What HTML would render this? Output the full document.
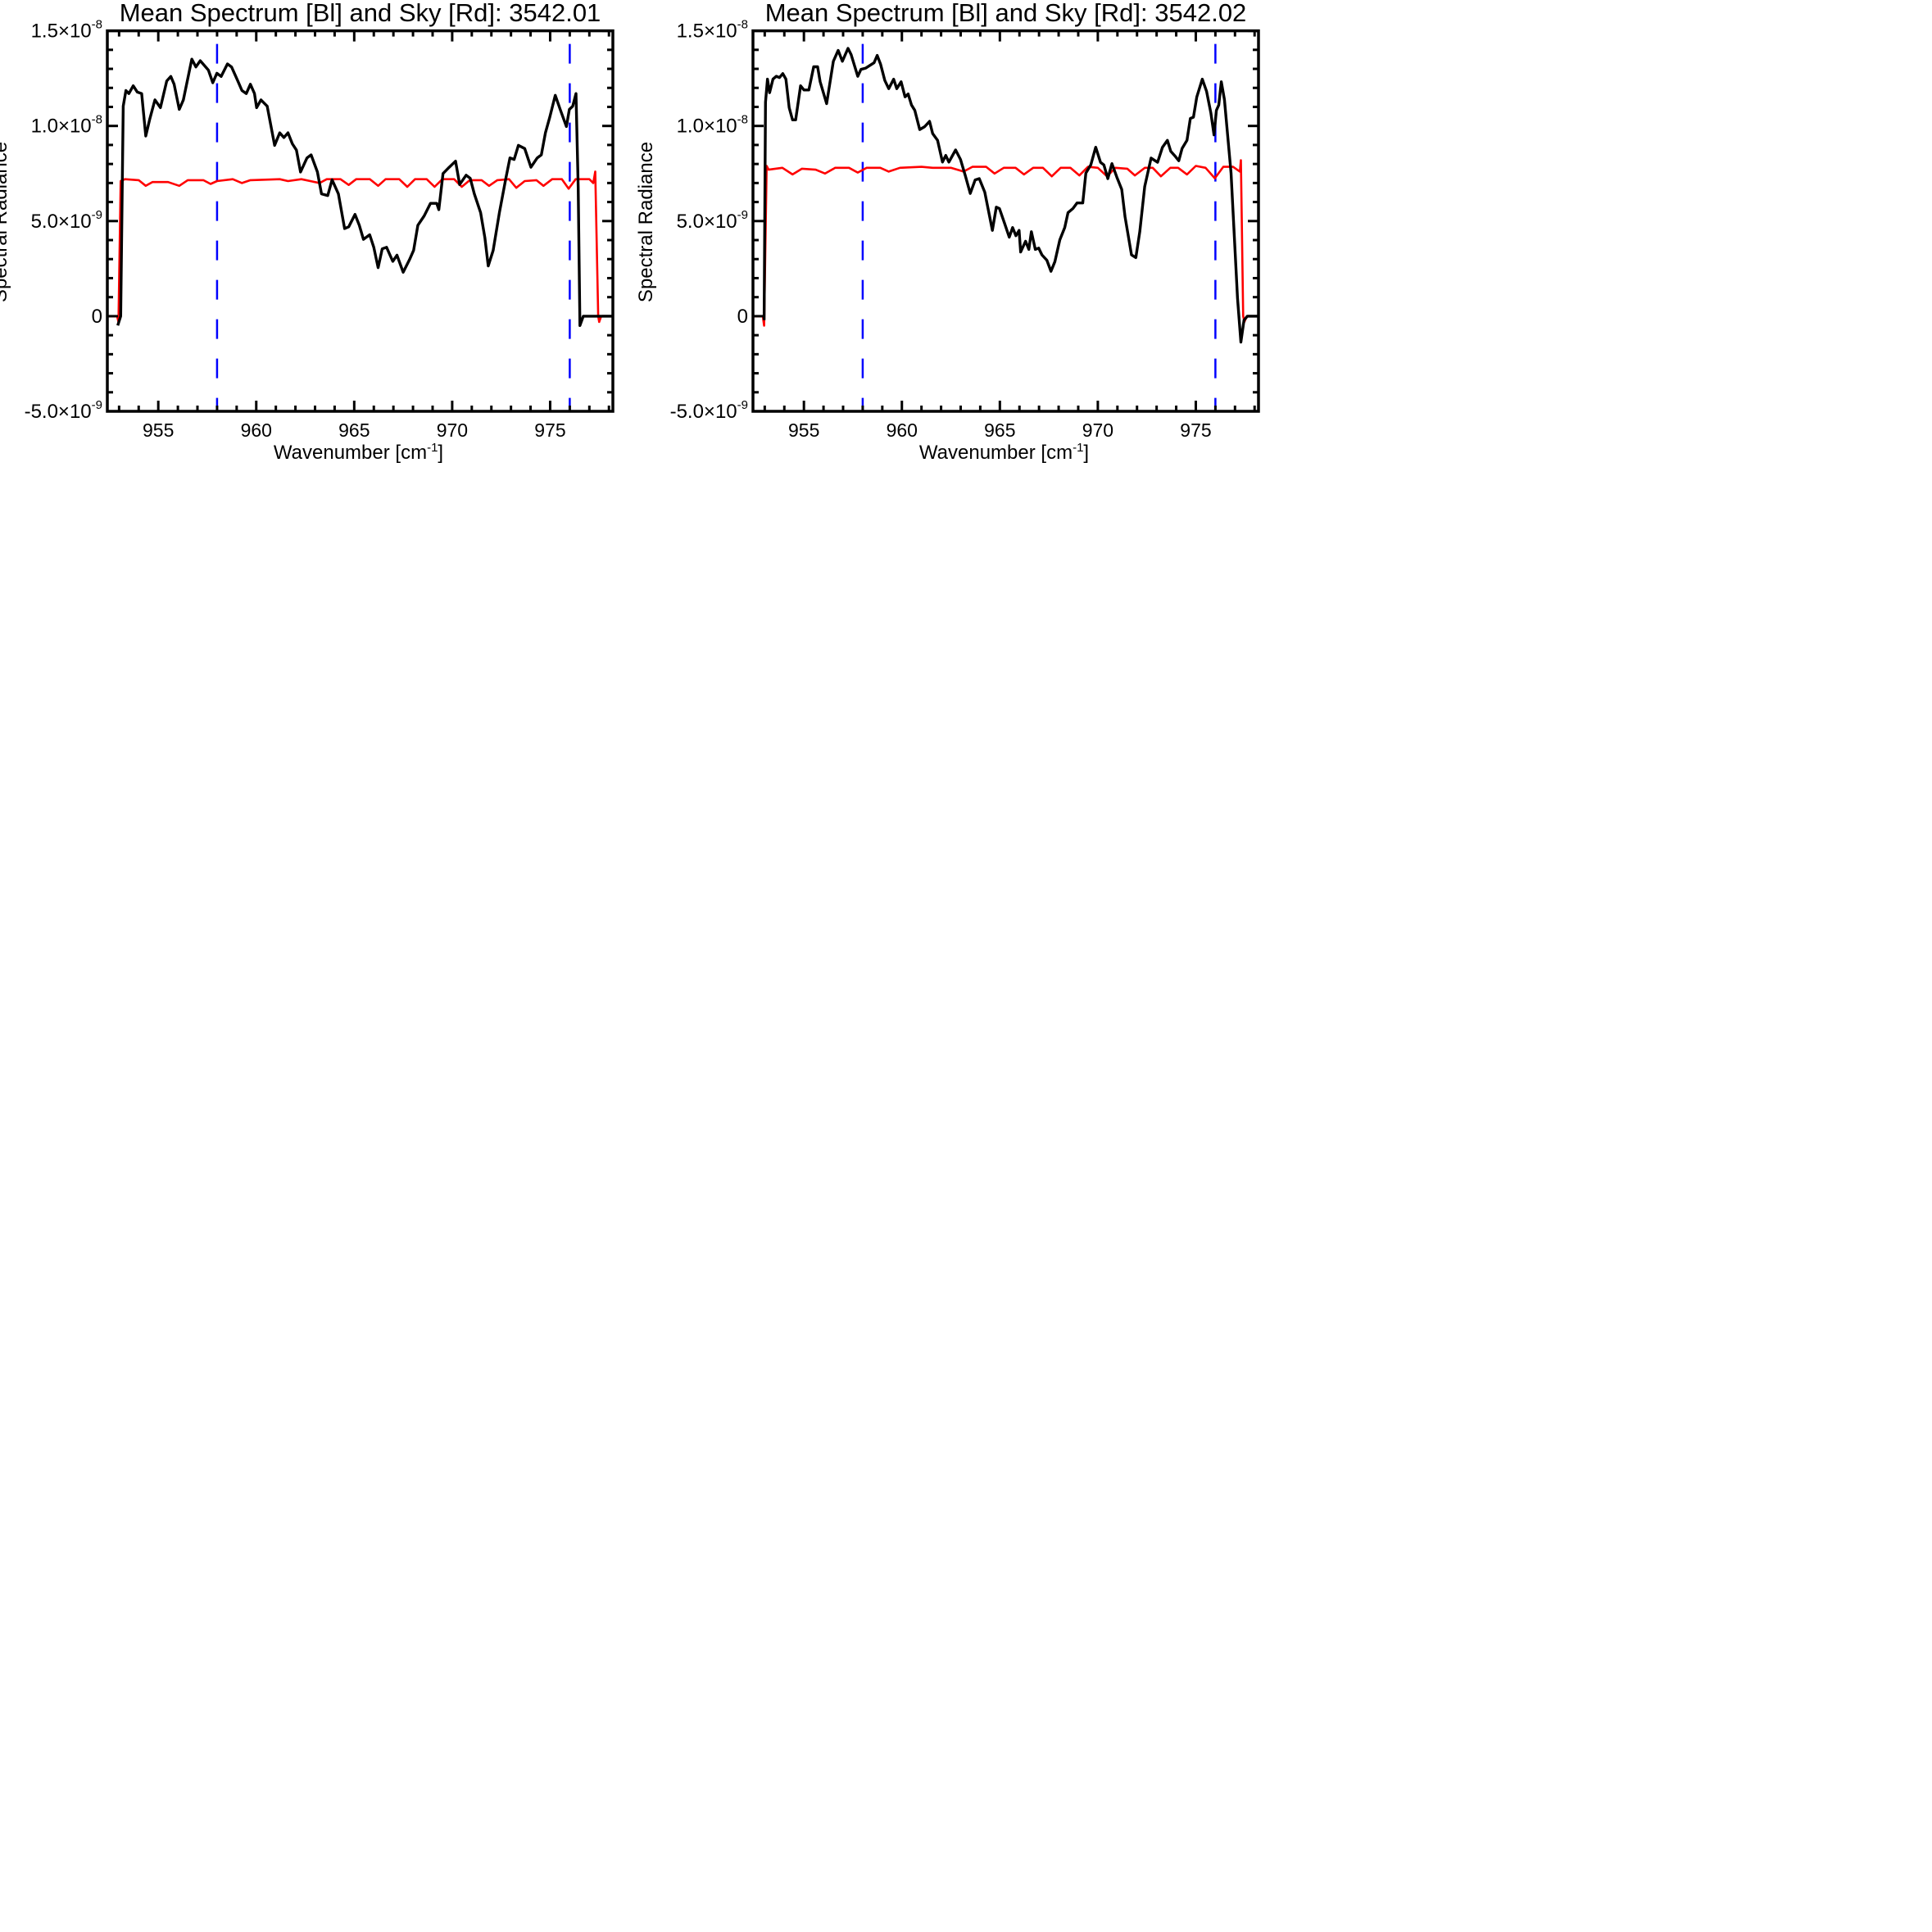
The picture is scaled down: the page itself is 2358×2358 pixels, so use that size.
<!DOCTYPE html>
<html><head><meta charset="utf-8"><style>
html,body{margin:0;padding:0;background:#fff;}
svg{display:block;font-family:"Liberation Sans",sans-serif;}
</style></head><body>
<svg id="chart" width="2358" height="2358" viewBox="0 0 2358 2358" xmlns="http://www.w3.org/2000/svg"></svg>
<script>
// Plot 1 data (wavenumber cm^-1, radiance in 1e-9 units)
const black1X=[952.93,953.08,953.21,953.35,953.50,953.72,953.93,954.15,954.36,954.57,954.83,955.11,955.43,955.64,955.81,956.07,956.28,956.71,956.92,957.14,957.56,957.78,957.99,958.21,958.53,958.74,959.06,959.27,959.49,959.70,959.91,960.02,960.24,960.56,960.94,961.20,961.41,961.62,961.84,962.05,962.26,962.59,962.80,963.12,963.33,963.65,963.87,964.19,964.51,964.72,965.04,965.26,965.47,965.79,966.00,966.22,966.43,966.65,966.97,967.18,967.50,967.82,968.03,968.25,968.57,968.89,969.21,969.32,969.53,969.85,970.17,970.38,970.71,970.92,971.13,971.45,971.67,971.84,972.09,972.41,972.74,972.95,973.16,973.38,973.70,974.02,974.34,974.55,974.76,974.98,975.26,975.51,975.83,975.98,976.15,976.32,976.43,976.52,976.69,978.2];
const black1Y=[-0.49,0,11.04,11.86,11.70,12.11,11.78,11.70,9.47,10.38,11.37,10.96,12.36,12.60,12.19,10.87,11.37,13.51,13.10,13.43,12.93,12.27,12.77,12.60,13.26,13.10,12.36,11.86,11.70,12.19,11.70,10.96,11.37,11.04,8.98,9.64,9.39,9.64,9.06,8.73,7.58,8.32,8.48,7.58,6.43,6.34,7.17,6.43,4.61,4.70,5.35,4.78,4.04,4.28,3.62,2.55,3.54,3.62,2.88,3.21,2.31,2.97,3.46,4.78,5.27,5.93,5.93,5.60,7.50,7.83,8.15,6.92,7.41,7.25,6.43,5.44,4.12,2.64,3.46,5.44,7.25,8.32,8.24,8.98,8.81,7.83,8.32,8.48,9.64,10.46,11.61,10.87,9.97,10.87,11.04,11.70,6.75,-0.49,0,0];
const red1X=[952.4,952.9,952.97,953.08,953.3,954.0,954.36,954.7,955.5,956.07,956.5,957.3,957.67,958.0,958.8,959.27,959.7,961.2,961.62,962.3,963.23,963.6,964.3,964.72,965.1,965.8,966.22,966.6,967.3,967.71,968.1,968.7,969.1,969.5,970.1,970.49,970.9,971.5,971.88,972.3,972.9,973.27,973.7,974.3,974.66,975.1,975.6,975.94,976.3,977.0,977.2,977.3,977.45,977.5,977.6,978.2];
const red1Y=[0,0,-0.3,7.1,7.2,7.15,6.85,7.05,7.05,6.85,7.15,7.15,6.95,7.1,7.2,7.0,7.15,7.2,7.1,7.2,7.0,7.2,7.2,6.9,7.2,7.2,6.85,7.2,7.2,6.8,7.2,7.2,6.8,7.2,7.2,6.8,7.15,7.15,6.85,7.15,7.2,6.75,7.1,7.15,6.85,7.2,7.2,6.7,7.2,7.2,7.0,7.6,0,-0.3,0,0];
// Plot 2 data
const black2X=[952.97,953.04,953.14,953.25,953.42,953.59,953.75,953.92,954.08,954.25,954.42,954.58,954.83,955.00,955.25,955.50,955.70,955.83,956.16,956.50,956.75,956.96,957.25,957.41,957.75,957.91,958.16,958.58,958.74,958.91,959.13,959.33,959.58,959.74,959.96,960.16,960.32,960.49,960.66,960.91,961.16,961.41,961.57,961.82,962.07,962.24,962.40,962.74,962.99,963.24,963.49,963.74,963.95,964.23,964.48,964.62,964.82,964.98,965.22,965.48,965.65,965.82,965.98,966.06,966.31,966.48,966.61,966.81,966.98,967.15,967.40,967.61,967.81,968.06,968.31,968.48,968.73,968.94,969.23,969.39,969.64,969.89,970.14,970.31,970.51,970.72,970.97,971.22,971.39,971.72,971.94,972.14,972.39,972.72,973.05,973.30,973.55,973.72,973.97,974.13,974.30,974.55,974.72,974.88,975.05,975.33,975.55,975.77,975.93,976.05,976.17,976.30,976.46,976.80,977.13,977.30,977.46,977.63,978.2];
const black2Y=[-0.21,11.25,12.46,11.75,12.46,12.61,12.54,12.75,12.46,10.96,10.32,10.32,12.11,11.89,11.89,13.11,13.11,12.32,11.17,13.40,13.97,13.40,14.08,13.75,12.61,12.97,13.04,13.32,13.71,13.25,12.39,11.96,12.46,11.96,12.32,11.53,11.68,11.10,10.82,9.81,9.96,10.24,9.60,9.24,8.10,8.45,8.10,8.74,8.24,7.38,6.45,7.16,7.23,6.52,5.23,4.51,5.73,5.66,4.94,4.15,4.66,4.23,4.51,3.37,3.94,3.51,4.44,3.51,3.58,3.22,2.94,2.36,2.87,4.01,4.66,5.44,5.66,5.95,5.95,7.52,7.95,8.88,8.09,7.95,7.23,8.02,7.31,6.66,5.23,3.22,3.08,4.44,6.81,8.31,8.09,8.88,9.24,8.67,8.38,8.17,8.81,9.24,10.39,10.46,11.53,12.46,11.82,10.67,9.53,10.82,11.10,12.32,11.39,7.52,0.93,-1.36,-0.21,0,0];
const red2X=[952.4,952.9,952.97,953.1,953.2,953.9,954.42,954.9,955.6,956.08,956.6,957.3,957.75,958.2,958.9,959.33,959.9,961.0,961.57,962.5,963.15,963.6,964.3,964.73,965.2,965.8,966.23,966.7,967.2,967.65,968.1,968.6,969.06,969.5,970.0,970.47,970.9,971.5,971.89,972.4,972.8,973.22,973.7,974.1,974.55,975.0,975.5,975.97,976.4,976.9,977.25,977.30,977.42,977.48,977.6,978.2];
const red2Y=[0,0,-0.5,7.9,7.7,7.8,7.45,7.75,7.7,7.5,7.8,7.8,7.55,7.8,7.8,7.6,7.8,7.85,7.8,7.8,7.6,7.85,7.85,7.5,7.8,7.8,7.45,7.8,7.8,7.35,7.8,7.8,7.4,7.85,7.8,7.35,7.8,7.75,7.4,7.8,7.8,7.35,7.8,7.8,7.45,7.9,7.8,7.25,7.85,7.85,7.6,8.2,0,-0.3,0,0];
const xTicks=[955,960,965,970,975];
const xTickLabels=["955","960","965","970","975"];
const yTicks=[15,10,5,0,-5];
const yTickMant=["1.5","1.0","5.0","0","-5.0"];
const yTickExp=["-8","-8","-9","","-9"];
const bounds=[958,976];
const titles=["Mean Spectrum [Bl] and Sky [Rd]: 3542.01","Mean Spectrum [Bl] and Sky [Rd]: 3542.02"];

const NS="http://www.w3.org/2000/svg";
const svg=document.getElementById('chart');
function mk(tag,attrs,parent){const e=document.createElementNS(NS,tag);for(const k in attrs)e.setAttribute(k,attrs[k]);(parent||svg).appendChild(e);return e;}
const X0=952.4,X1=978.2,Y0=-5,Y1=15,TOP=37.6,BOT=502,W=617;

function drawPlot(idx,left,bx,by,rx,ry){
  const right=left+W;
  const sx=v=>left+(v-X0)/(X1-X0)*W;
  const sy=v=>BOT-(v-Y0)/(Y1-Y0)*(BOT-TOP);
  const g=mk('g',{});
  
  
  const t=mk('text',{x:(left+right)/2,y:26,'text-anchor':'middle','font-size':31},g);
  t.textContent=titles[idx];
  
  
  const cp=mk('clipPath',{id:'clip'+idx},g);
  mk('rect',{x:left,y:TOP,width:W,height:BOT-TOP},cp);
  const pg=mk('g',{'clip-path':'url(#clip'+idx+')'},g);
  bounds.forEach(b=>{
    const l=mk('line',{x1:sx(b),x2:sx(b),y1:TOP+16,y2:BOT,stroke:'#0000ff','stroke-width':2.5,'stroke-dasharray':'24 24'},pg);
    
    
  });
  const pts=(xs,ys)=>xs.map((v,i)=>sx(v).toFixed(1)+','+sy(ys[i]).toFixed(1)).join(' ');
  const rl=mk('polyline',{points:pts(rx,ry),fill:'none',stroke:'#ff0000','stroke-width':2.6,'stroke-linejoin':'round'},pg);
  
  
  const bl=mk('polyline',{points:pts(bx,by),fill:'none',stroke:'#000','stroke-width':3.4,'stroke-linejoin':'round'},pg);
  
  
  const tk=mk('g',{stroke:'#000','stroke-width':3},g);
  
  
  for(let v=953;v<=978;v++){
    const L=(v%5===0)?13:7, x=sx(v);
    mk('line',{x1:x,x2:x,y1:BOT,y2:BOT-L},tk);
    mk('line',{x1:x,x2:x,y1:TOP,y2:TOP+L},tk);
  }
  for(let v=-5;v<=15;v++){
    const L=(v%5===0)?13:7, y=sy(v);
    mk('line',{x1:left,x2:left+L,y1:y,y2:y},tk);
    mk('line',{x1:right,x2:right-L,y1:y,y2:y},tk);
  }
  const fr=mk('rect',{x:left,y:TOP,width:W,height:BOT-TOP,fill:'none',stroke:'#000','stroke-width':3.5},g);
  
  
  xTicks.forEach((v,i)=>{
    const tt=mk('text',{x:sx(v),y:533,'text-anchor':'middle','font-size':23},g);
    tt.textContent=xTickLabels[i];
    
    
  });
  yTicks.forEach((v,i)=>{
    const tt=mk('text',{x:left-6,y:sy(v)+8,'text-anchor':'end','font-size':24},g);
    
    
    if(yTickExp[i]){
      const a=mk('tspan',{},tt);a.textContent=yTickMant[i]+'\u00d710';
      const b=mk('tspan',{dy:-11,'font-size':15},tt);b.textContent=yTickExp[i];
    } else tt.textContent=yTickMant[i];
  });
  const xt=mk('text',{x:(left+right)/2-2,y:560,'text-anchor':'middle','font-size':24},g);
  
  
  const a=mk('tspan',{},xt);a.textContent='Wavenumber [cm';
  const b=mk('tspan',{dy:-9,'font-size':15},xt);b.textContent='-1';
  const c=mk('tspan',{dy:9},xt);c.textContent=']';
  const cx=left-131;
  const yt=mk('text',{x:cx,y:271,'text-anchor':'middle','font-size':24,transform:'rotate(-90 '+cx+' 271)',dy:8},g);
  yt.textContent='Spectral Radiance';
  
  
}
drawPlot(0,131,black1X,black1Y,red1X,red1Y);
drawPlot(1,919,black2X,black2Y,red2X,red2Y);
</script>
</body></html>
